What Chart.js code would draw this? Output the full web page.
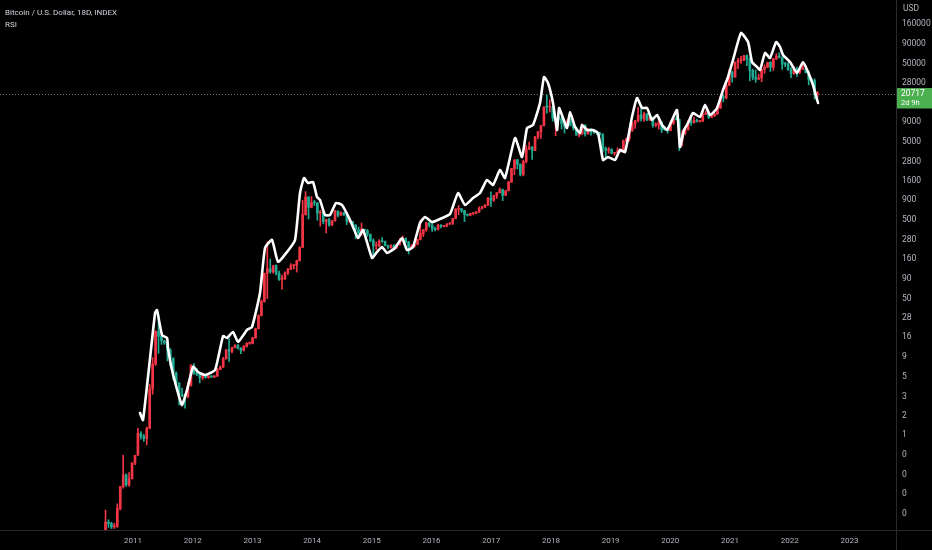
<!DOCTYPE html>
<html>
<head>
<meta charset="utf-8">
<script src="https://cdn.jsdelivr.net/npm/chart.js@4.4.1/dist/chart.umd.min.js"></script>
<style>
html, body { margin: 0; padding: 0; background: #000; }
#grafico { display: block; }
</style>
</head>
<body>
<canvas id="grafico" width="932" height="550"></canvas>
<script>
// 18-day candles, first one opens 2010-07-17
const candleStart = Date.UTC(2010, 6, 17);
const candleDays = 18;
const firstOpen = 0.05;

const closes = [
  0.07, 0.067, 0.061, 0.062, 0.105, 0.20, 0.28, 0.21, 0.25, 0.40,
  0.50, 0.95, 0.87, 0.82, 1.10, 3.5, 7.3, 19, 16.5, 14.5, 13.6, 11, 8.6, 5.6, 4.2, 3.0, 2.9, 2.8, 3.9, 7.0,
  5.6, 5.4, 4.9, 5.3, 4.9, 5.1, 5.0, 5.1, 6.2, 6.7, 8.5, 11.1, 10.6, 11.8, 12.7, 11.7, 10.9, 12.3, 13.4, 13.4,
  15.7, 20.6, 30.4, 46, 105, 120, 110, 132, 105, 88, 90, 106, 118, 132, 133, 153, 225, 590, 990, 730, 840,
  830, 620, 630, 480, 510, 435, 490, 655, 580, 625, 585, 480, 480, 435, 380, 340, 385, 370, 330, 275,
  235, 235, 272, 268, 237, 225, 237, 225, 245, 269, 293, 265, 228, 232, 246, 284, 336, 378, 464, 432,
  387, 381, 432, 418, 420, 448, 458, 525, 690, 703, 665, 590, 579, 609, 615, 637, 710, 740, 780, 960, 900,
  1030, 1120, 1230, 1040, 1190, 1540, 2280, 2950, 2590, 1930, 2800, 4050, 4300, 3890, 5830, 6750, 8040, 14000, 13900, 13900,
  10100, 10200, 9900, 8600, 7900, 9240, 8100, 7600, 6100, 6380, 8200, 6300, 7270, 6700, 6600, 6450, 6180, 4150, 3900, 4000,
  3580, 3630, 3820, 4050, 5180, 5450, 6960, 8560, 9320, 11000, 9850, 11400, 9500, 10300, 8150, 8230, 8800, 7150, 7120, 6970,
  8700, 9800, 9650, 5200, 6450, 7150, 9150, 8800, 9450, 9150, 9150, 11200, 11700, 10350, 10800, 11350, 13550, 18700, 18300, 26500, 39200,
  33500, 51600, 54800, 55100, 62900, 56600, 40800, 33500, 31600, 32700, 42000, 44800, 51800, 44900, 57500, 62300, 60300, 49200, 48900, 41800,
  37100, 42500, 39100, 42400, 42800, 38200, 31300, 30400, 20600, 20717
];

const highs = [
  0.10, 0.075, 0.07, 0.068, 0.12, 0.20, 0.50, 0.29, 0.30, 0.40,
  0.50, 1.10, 1.0, 0.92, 1.15, 4.0, 8.8, 19.5, 31, 17.5, 14.7, 14, 11.5, 8.8, 5.8, 4.2, 3.6, 3.0, 4.2, 7.2,
  7.4, 6.4, 5.6, 5.5, 5.3, 5.2, 5.2, 5.2, 6.4, 6.9, 8.9, 11.2, 15.4, 12.0, 12.9, 12.9, 11.8, 12.6, 13.7, 13.9,
  16.0, 21, 31, 48, 106, 266, 160, 133, 135, 112, 100, 110, 122, 140, 136, 155, 230, 900, 1160, 1000, 1000,
  900, 840, 670, 640, 510, 530, 500, 670, 660, 640, 630, 595, 520, 485, 440, 410, 460, 385, 380, 335,
  290, 265, 282, 300, 270, 240, 245, 245, 250, 290, 315, 298, 268, 245, 248, 288, 500, 380, 470, 465,
  465, 410, 445, 440, 425, 452, 465, 530, 705, 770, 705, 670, 600, 615, 618, 645, 740, 755, 790, 975, 1150,
  1040, 1125, 1290, 1250, 1210, 1560, 2300, 2950, 2990, 2620, 2920, 4480, 4980, 4350, 5860, 6760, 8100, 14000, 19800, 17200,
  14200, 10300, 11800, 10900, 8800, 9760, 9950, 8400, 7750, 6800, 8500, 8250, 7350, 7400, 6800, 6850, 6600, 6380, 4300, 4250,
  4100, 3650, 4200, 4080, 5300, 5600, 7450, 8900, 9400, 13800, 13100, 12000, 11500, 10900, 10400, 8750, 10500, 9150, 7850, 7700,
  9000, 9900, 10500, 9650, 7000, 7450, 9400, 10000, 10400, 9800, 9450, 12100, 12450, 12100, 11200, 11700, 14100, 18800, 19900, 28400, 42000,
  40000, 52600, 58300, 61700, 63800, 64800, 59600, 42500, 41300, 36600, 42300, 48100, 51900, 52900, 57800, 67000, 69000, 60800, 51900, 52000,
  44400, 45800, 45000, 42600, 48200, 42900, 40000, 31500, 31900, 22000
];

const lows = [
  0.05, 0.06, 0.058, 0.058, 0.06, 0.10, 0.19, 0.20, 0.20, 0.25,
  0.38, 0.50, 0.80, 0.75, 0.68, 1.1, 3.0, 7.0, 10, 13, 13, 8, 7.0, 4.6, 4.0, 2.2, 2.8, 2.0, 2.7, 3.8,
  5.4, 5.2, 4.2, 4.6, 4.8, 4.8, 4.9, 4.9, 5.1, 6.2, 6.6, 8.4, 7.9, 10.1, 11.7, 11.3, 9.9, 10.7, 12.0, 13.0,
  13.2, 15.6, 20.5, 30, 45, 50, 105, 105, 100, 85, 66, 87, 101, 117, 120, 109, 150, 225, 580, 520, 720,
  770, 500, 420, 450, 345, 420, 425, 485, 550, 575, 575, 440, 465, 400, 290, 330, 320, 345, 310, 265,
  170, 210, 230, 260, 235, 217, 220, 222, 218, 240, 266, 255, 185, 225, 226, 243, 280, 310, 360, 410,
  360, 365, 375, 400, 410, 415, 440, 440, 520, 590, 630, 480, 565, 570, 590, 605, 630, 690, 725, 770, 750,
  870, 950, 1115, 890, 1030, 1180, 1520, 1900, 2250, 1840, 1840, 2690, 3970, 2980, 3860, 5440, 5540, 8000, 11600, 12000,
  9200, 6000, 9500, 7300, 6500, 7800, 8000, 7050, 6050, 5800, 6150, 5900, 6250, 6100, 6400, 6200, 6100, 3700, 3150, 3580,
  3500, 3370, 3600, 3700, 3950, 4950, 5090, 6800, 7450, 9000, 9200, 9100, 9350, 9350, 7700, 7800, 7300, 6550, 7050, 6450,
  6900, 8300, 9550, 3850, 4450, 6150, 7050, 8100, 8650, 8900, 8950, 9100, 11100, 9900, 10150, 10500, 11200, 13300, 16200, 17600, 26000,
  29000, 33400, 43000, 50300, 54600, 47000, 30000, 31000, 28800, 31200, 29300, 37400, 44200, 39600, 40800, 56000, 58900, 42000, 45600, 40700,
  32900, 36200, 34300, 37200, 41800, 38000, 26700, 28700, 17600, 18700
];

// white line
const lineYears = [
  2011.117, 2011.168, 2011.369, 2011.402, 2011.486, 2011.570, 2011.586, 2011.653, 2011.787, 2011.821, 2011.905,
  2012.005, 2012.089, 2012.206, 2012.374, 2012.508, 2012.575, 2012.675, 2012.759, 2012.910, 2012.993,
  2013.127, 2013.211, 2013.328, 2013.429, 2013.580, 2013.714, 2013.797, 2013.864, 2013.931,
  2014.015, 2014.082, 2014.132, 2014.216, 2014.300, 2014.400, 2014.501, 2014.635, 2014.769, 2014.853,
  2015.003, 2015.087, 2015.171, 2015.255, 2015.389, 2015.506, 2015.590, 2015.690, 2015.807, 2015.891,
  2016.008, 2016.142, 2016.310, 2016.444, 2016.561, 2016.695, 2016.812, 2016.930,
  2017.030, 2017.147, 2017.231, 2017.399, 2017.516, 2017.600, 2017.700, 2017.817, 2017.884, 2017.951,
  2018.035, 2018.102, 2018.136, 2018.203, 2018.270, 2018.320, 2018.404, 2018.487, 2018.521, 2018.605, 2018.705, 2018.789, 2018.873, 2018.957,
  2019.074, 2019.157, 2019.241, 2019.358, 2019.442, 2019.526, 2019.610, 2019.693, 2019.777, 2019.861, 2019.945,
  2020.028, 2020.112, 2020.162, 2020.229, 2020.296, 2020.380, 2020.497, 2020.581, 2020.665, 2020.782, 2020.883, 2020.966,
  2021.050, 2021.184, 2021.302, 2021.369, 2021.452, 2021.503, 2021.586, 2021.670, 2021.771, 2021.838, 2021.888,
  2022.005, 2022.122, 2022.223, 2022.307, 2022.390, 2022.474
];
const lineValues = [
  1.73, 1.41, 32.7, 35.7, 17.1, 15.7, 11.7, 6.13, 2.54, 2.19, 3.41,
  6.70, 5.78, 5.29, 6.13, 16.6, 15.7, 18.7, 14.0, 19.9, 21.7,
  58.9, 221, 280, 147, 197, 280, 1113, 1730, 1494,
  1538, 990, 906, 583, 583, 830, 782, 504, 297, 375,
  165, 197, 228, 191, 221, 297, 208, 228, 461, 550,
  475, 519, 600, 1113, 782, 961, 1113, 1632,
  1408, 2189, 1730, 5605, 3207, 7520, 8212, 15680, 33660, 28220,
  15680, 7090, 13540, 10090, 7520, 12030, 7745, 6493, 8212, 7090, 7090, 6493, 2936, 3207,
  2936, 3939, 3715, 10390, 18160, 13540, 13540, 9513, 11020, 8212, 7090,
  9513, 12760, 4302, 7090, 8710, 11680, 10390, 14780, 11020, 13540, 22980, 33660,
  55480, 122700, 94150, 52320, 45160, 41350, 68160, 58850, 94150, 81280, 64270,
  52320, 37860, 52320, 38990, 26610, 15680
];

const xTickYears = [2011, 2012, 2013, 2014, 2015, 2016, 2017, 2018, 2019, 2020, 2021, 2022, 2023];
const yTickValues = [160000, 90000, 50000, 28000, 16000, 9000, 5000, 2800, 1600, 900, 500, 280, 160, 90, 50, 28, 16, 9, 5, 2.8, 1.6, 0.9, 0.5, 0.28, 0.16, 0.09];
const yTickLabels = ['160000', '90000', '50000', '28000', '16000', '9000', '5000', '2800', '1600', '900', '500', '280', '160', '90', '50', '28', '16', '9', '5', '3', '2', '1', '0', '0', '0', '0'];

const UP = '#f23645';
const DOWN = '#22ab94';
const FONT = 'Roboto, "Noto Sans", sans-serif';
const NARROW = '"Liberation Sans Narrow", Roboto, sans-serif';

function decimalYear(ms) {
  var d = new Date(ms);
  var y = d.getUTCFullYear();
  var a = Date.UTC(y, 0, 1), b = Date.UTC(y + 1, 0, 1);
  return y + (ms - a) / (b - a);
}

var opens = closes.map((c, i) => i === 0 ? firstOpen : closes[i - 1]);
var candleX = closes.map((c, i) => decimalYear(candleStart + i * candleDays * 86400000));

function candleColor(i) {
  return closes[i] >= opens[i] ? UP : DOWN;
}

var wicks = candleX.map((x, i) => ({ x: x, y: [lows[i], highs[i]] }));
var bodies = candleX.map((x, i) => ({ x: x, y: [opens[i], closes[i]] }));
var line = lineYears.map((x, i) => ({ x: x, y: lineValues[i] }));
var lastPrice = closes[closes.length - 1];

const extras = {
  id: 'extras',
  beforeDatasetsDraw(chart) {
    const { ctx, chartArea, scales } = chart;
    const yp = Math.round(scales.y.getPixelForValue(lastPrice)) + 0.5;
    ctx.save();
    ctx.strokeStyle = '#6f727c';
    ctx.lineWidth = 1;
    ctx.setLineDash([1, 2]);
    ctx.beginPath();
    ctx.moveTo(chartArea.left, yp);
    ctx.lineTo(chartArea.right, yp);
    ctx.stroke();
    ctx.restore();
  },
  afterDraw(chart) {
    const { ctx, chartArea, scales } = chart;
    ctx.save();
    ctx.strokeStyle = '#2a2a2a';
    ctx.lineWidth = 1;
    ctx.beginPath();
    ctx.moveTo(Math.round(chartArea.right) + 0.5, 0);
    ctx.lineTo(Math.round(chartArea.right) + 0.5, chart.height);
    ctx.moveTo(0, Math.round(chartArea.bottom) + 0.5);
    ctx.lineTo(chart.width, Math.round(chartArea.bottom) + 0.5);
    ctx.stroke();

    ctx.textBaseline = 'middle';
    ctx.textAlign = 'left';
    ctx.fillStyle = '#d1d4dc';
    ctx.font = '8px ' + FONT;
    ctx.fillText('Bitcoin / U.S. Dollar, 18D, INDEX', 5, 12.5);
    ctx.fillText('RSI', 5, 25);
    ctx.fillStyle = '#b2b5be';
    ctx.font = '8.5px ' + NARROW;
    ctx.fillText('USD', chartArea.right + 7, 9);

    // last price label
    const yp = scales.y.getPixelForValue(lastPrice);
    const bx = chartArea.right + 1;
    ctx.fillStyle = '#4caf50';
    ctx.fillRect(bx, yp - 5.5, chart.width - bx, 20.5);
    ctx.fillStyle = '#ffffff';
    ctx.font = '8.5px ' + NARROW;
    ctx.fillText(String(lastPrice), bx + 4, yp + 0.5);
    ctx.font = '7.5px ' + NARROW;
    ctx.fillText('2d 9h', bx + 4, yp + 9.5);
    ctx.restore();
  }
};

var ctx = document.getElementById('grafico').getContext('2d');
var chart = new Chart(ctx, {
  type: 'bar',
  data: {
    datasets: [
      {
        type: 'line',
        data: line,
        borderColor: '#ffffff',
        borderWidth: 2.6,
        pointRadius: 0,
        tension: 0.15,
        borderJoinStyle: 'round',
        borderCapStyle: 'round',
        order: 0
      },
      {
        data: bodies,
        backgroundColor: c => candleColor(c.dataIndex),
        barThickness: 2,
        minBarLength: 1,
        grouped: false,
        order: 1
      },
      {
        data: wicks,
        backgroundColor: c => candleColor(c.dataIndex),
        barThickness: 1,
        grouped: false,
        order: 2
      }
    ]
  },
  options: {
    responsive: false,
    animation: false,
    events: [],
    layout: { padding: 0 },
    plugins: {
      legend: { display: false },
      tooltip: { enabled: false }
    },
    scales: {
      x: {
        type: 'linear',
        offset: false,
        min: 2008.772,
        max: 2023.78,
        grid: { display: false, drawTicks: false },
        border: { display: false },
        afterBuildTicks: s => { s.ticks = xTickYears.map(v => ({ value: v })); },
        afterFit: s => { s.height = 20; s.paddingLeft = 0; s.paddingRight = 0; },
        ticks: {
          autoSkip: false,
          maxRotation: 0,
          padding: 6,
          color: '#b2b5be',
          font: { family: FONT, size: 8 },
          callback: v => String(v)
        }
      },
      y: {
        type: 'logarithmic',
        position: 'right',
        min: 0.0556,
        max: 323600,
        grid: { display: false, drawTicks: false },
        border: { display: false },
        afterBuildTicks: s => { s.ticks = yTickValues.map(v => ({ value: v })); },
        afterFit: s => { s.width = 36; s.paddingTop = 0; s.paddingBottom = 0; },
        ticks: {
          autoSkip: false,
          padding: 6,
          color: '#b2b5be',
          font: { family: NARROW, size: 8.5 },
          callback: (v, i) => yTickLabels[i]
        }
      }
    }
  },
  plugins: [extras]
});
</script>
</body>
</html>
